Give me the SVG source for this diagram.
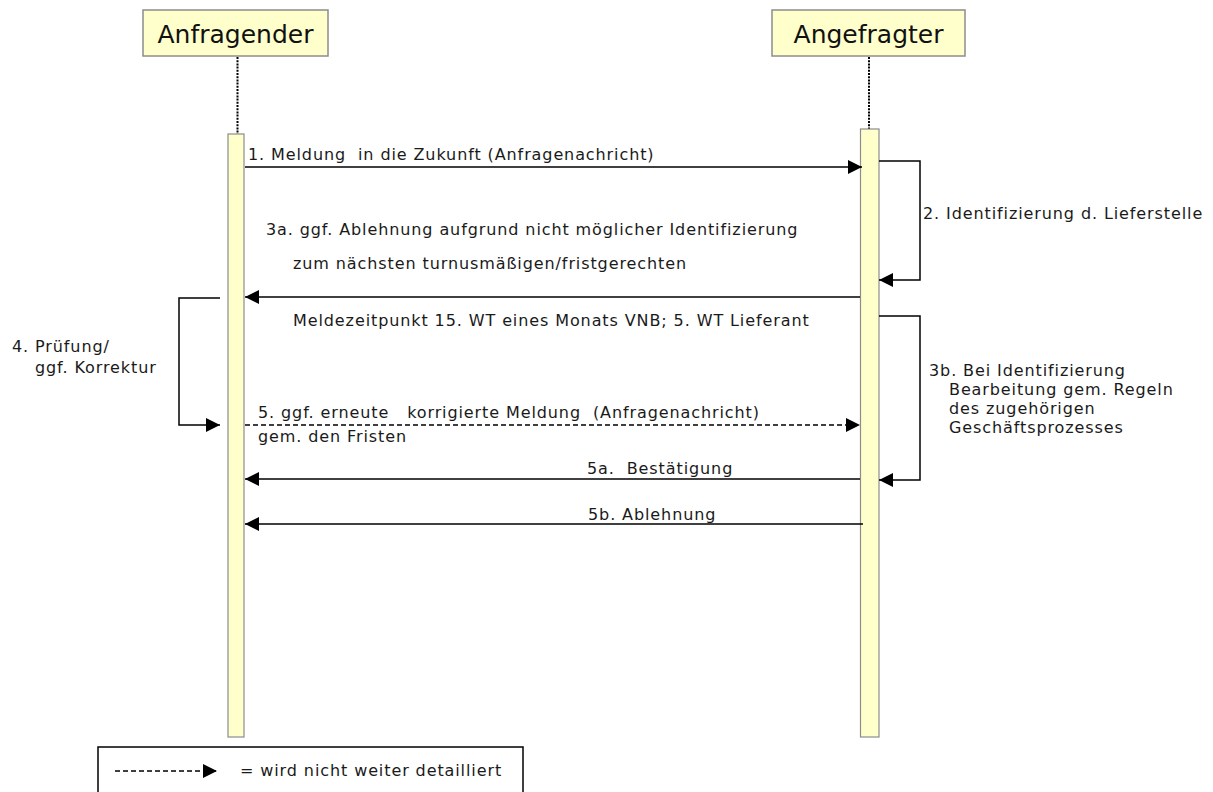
<svg xmlns="http://www.w3.org/2000/svg" width="1213" height="792" viewBox="0 0 1213 792">
<style>
.head{fill:#ffffcc;stroke:#8c8c8c;stroke-width:1.5}
.bar{fill:#ffffcc;stroke:#8c8c8c;stroke-width:1.2}
.life{stroke:#000;stroke-width:2;stroke-dasharray:2 1.2;fill:none}
.ht{font-family:"DejaVu Sans",Verdana,sans-serif;font-size:25px;fill:#111;text-anchor:middle}
.t{font-family:"DejaVu Sans",Verdana,sans-serif;font-size:16px;letter-spacing:0.9px;fill:#1a1a1a;white-space:pre}
.c{stroke:#000;stroke-width:1.5;fill:none}
.d{stroke:#000;stroke-width:1.3;fill:none;stroke-dasharray:5 3}
</style>
<defs>
<marker id="ah" markerUnits="userSpaceOnUse" markerWidth="14" markerHeight="14" viewBox="0 0 13 13" refX="13" refY="6.5" orient="auto">
<path d="M0,0 L13,6.5 L0,13 z" fill="#000"/>
</marker>
</defs>
<rect width="1213" height="792" fill="#fff"/>

<g id="anfragender">
<rect class="head" x="143" y="10" width="185" height="46"/>
<text class="ht" x="235.5" y="43">Anfragender</text>
<line class="life" x1="237.5" y1="57" x2="237.5" y2="134"/>
<rect class="bar" x="228" y="134" width="16" height="603"/>
</g>

<g id="angefragter">
<rect class="head" x="772" y="10" width="193" height="46"/>
<text class="ht" x="868.5" y="43">Angefragter</text>
<line class="life" x1="869" y1="57" x2="869" y2="129"/>
<rect class="bar" x="860.5" y="129" width="18.5" height="608"/>
</g>

<g id="connectors">
<line class="c" x1="245" y1="167" x2="862" y2="167" marker-end="url(#ah)"/>
<polyline class="c" points="879,161 920,161 920,280 879,280" marker-end="url(#ah)"/>
<line class="c" x1="860" y1="297" x2="245" y2="297" marker-end="url(#ah)"/>
<polyline class="c" points="220,298 179,298 179,425 220,425" marker-end="url(#ah)"/>
<line class="d" x1="245" y1="425" x2="860" y2="425" marker-end="url(#ah)"/>
<polyline class="c" points="879,316 920,316 920,480 879,480" marker-end="url(#ah)"/>
<line class="c" x1="860" y1="479" x2="245" y2="479" marker-end="url(#ah)"/>
<line class="c" x1="863" y1="524" x2="245" y2="524" marker-end="url(#ah)"/>
</g>

<g id="labels">
<text class="t" x="248" y="160">1. Meldung  in die Zukunft (Anfragenachricht)</text>
<text class="t" x="923" y="219">2. Identifizierung d. Lieferstelle</text>
<text class="t" x="266" y="235">3a. ggf. Ablehnung aufgrund nicht möglicher Identifizierung</text>
<text class="t" x="293" y="269">zum nächsten turnusmäßigen/fristgerechten</text>
<text class="t" x="293" y="326">Meldezeitpunkt 15. WT eines Monats VNB; 5. WT Lieferant</text>
<text class="t" x="12" y="352">4. Prüfung/</text>
<text class="t" x="35" y="373">ggf. Korrektur</text>
<text class="t" x="929" y="376">3b. Bei Identifizierung</text>
<text class="t" x="949" y="395">Bearbeitung gem. Regeln</text>
<text class="t" x="949" y="414">des zugehörigen</text>
<text class="t" x="949" y="433">Geschäftsprozesses</text>
<text class="t" x="258" y="418">5. ggf. erneute   korrigierte Meldung  (Anfragenachricht)</text>
<text class="t" x="258" y="442">gem. den Fristen</text>
<text class="t" x="587" y="474">5a.  Bestätigung</text>
<text class="t" x="588" y="520">5b. Ablehnung</text>
</g>

<g id="legend">
<rect x="98" y="747" width="425" height="60" fill="#fff" stroke="#000" stroke-width="1.5"/>
<line class="d" x1="115" y1="771" x2="217" y2="771" marker-end="url(#ah)"/>
<text class="t" x="240" y="776">= wird nicht weiter detailliert</text>
</g>
</svg>
